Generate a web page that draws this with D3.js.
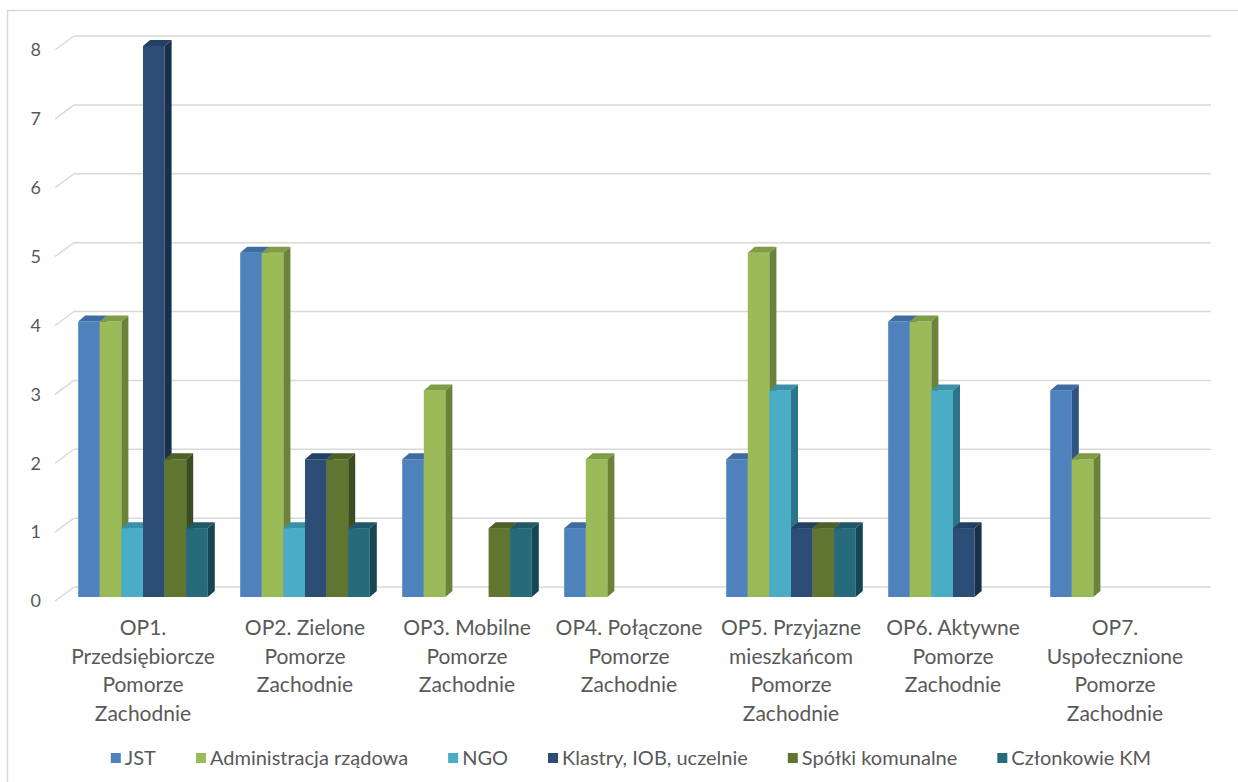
<!DOCTYPE html>
<html lang="pl">
<head>
    <meta charset="UTF-8">
    <title>Chart</title>
    <script src="https://d3js.org/d3.v7.min.js"></script>
    <style>
        body { margin: 0; background: #fff; }
        text { font-family: Lato, "Open Sans", sans-serif; fill: #595959; }
    </style>
</head>
<body>
    <div id="chart"></div>
    <script>
        // data
        const categories = ["OP1", "OP2", "OP3", "OP4", "OP5", "OP6", "OP7"];
        const categoryLines = [
            ["OP1.", "Przedsiębiorcze", "Pomorze", "Zachodnie"],
            ["OP2. Zielone", "Pomorze", "Zachodnie"],
            ["OP3. Mobilne", "Pomorze", "Zachodnie"],
            ["OP4. Połączone", "Pomorze", "Zachodnie"],
            ["OP5. Przyjazne", "mieszkańcom", "Pomorze", "Zachodnie"],
            ["OP6. Aktywne", "Pomorze", "Zachodnie"],
            ["OP7.", "Uspołecznione", "Pomorze", "Zachodnie"]
        ];
        const seriesNames = ["JST", "Administracja rządowa", "NGO", "Klastry, IOB, uczelnie", "Spółki komunalne", "Członkowie KM"];
        const jst        = [4, 5, 2, 1, 2, 4, 3];
        const admin      = [4, 5, 3, 2, 5, 4, 2];
        const ngo        = [1, 1, 0, 0, 3, 3, 0];
        const klastry    = [8, 2, 0, 0, 1, 1, 0];
        const spolki     = [2, 2, 1, 0, 1, 0, 0];
        const czlonkowie = [1, 1, 1, 0, 1, 0, 0];
        const seriesValues = [jst, admin, ngo, klastry, spolki, czlonkowie];
        const yTicks = [0, 1, 2, 3, 4, 5, 6, 7, 8];

        // colours: front, top, side
        const faceColors = [
            ["#4f81bd", "#3e6ba2", "#2f5482"],
            ["#9bbb59", "#7f9c46", "#6a8339"],
            ["#4bacc6", "#3a90a8", "#2d7488"],
            ["#2c4d75", "#233f61", "#1a2f49"],
            ["#5f7530", "#4d6026", "#3c4c1d"],
            ["#276a7c", "#1f5867", "#174552"]
        ];

        const width = 1238, height = 782;
        const depthX = 19, depthY = 14;    // floor depth
        const barDx = 7, barDy = 6;        // bar depth
        const frontShift = 10;             // bar front vs. back wall

        const svg = d3.select("#chart").append("svg")
            .attr("width", width)
            .attr("height", height);

        // chart border
        svg.append("rect")
            .attr("x", 7.5).attr("y", 10.5)
            .attr("width", 1240).attr("height", 790)
            .attr("fill", "none")
            .attr("stroke", "#d9d9d9")
            .attr("stroke-width", 1.5);

        const y = d3.scaleLinear().domain([0, 8]).range([587, 36]);
        const x0 = d3.scaleBand().domain(categories).range([62, 1196])
            .paddingInner(0.2).paddingOuter(0.1);
        const x1 = d3.scaleBand().domain(seriesNames).range([0, x0.bandwidth()]);

        // gridlines (back wall + side wall diagonal)
        const grid = svg.append("g");
        grid.selectAll(".gl").data(yTicks).join("line")
            .attr("x1", 55 + depthX).attr("x2", 1211)
            .attr("y1", d => y(d)).attr("y2", d => y(d))
            .attr("stroke", "#d9d9d9").attr("stroke-width", 1.5);
        grid.selectAll(".gd").data(yTicks).join("line")
            .attr("x1", 55).attr("x2", 55 + depthX)
            .attr("y1", d => y(d) + depthY).attr("y2", d => y(d))
            .attr("stroke", "#d9d9d9").attr("stroke-width", 1.5);

        // y tick labels
        svg.append("g").selectAll("text").data(yTicks).join("text")
            .attr("x", 41)
            .attr("y", d => y(d) + depthY)
            .attr("dy", "0.35em")
            .attr("text-anchor", "end")
            .style("font-size", "18px")
            .text(d => d);

        // bars
        const bars = [];
        categories.forEach((c, ci) => {
            seriesNames.forEach((s, si) => {
                const v = seriesValues[si][ci];
                if (v > 0) bars.push({ c, s, si, v });
            });
        });

        const barG = svg.append("g");
        bars.forEach(d => {
            const xl = x0(d.c) + x1(d.s);
            const xr = xl + x1.bandwidth();
            const yt = y(d.v) + frontShift;
            const yb = y(0) + frontShift;
            const g = barG.append("g");
            g.append("rect")
                .attr("x", xl).attr("y", yt)
                .attr("width", xr - xl).attr("height", yb - yt)
                .attr("fill", faceColors[d.si][0]);
            g.append("path")
                .attr("d", `M${xl},${yt}L${xl + barDx},${yt - barDy}L${xr + barDx},${yt - barDy}L${xr},${yt}Z`)
                .attr("fill", faceColors[d.si][1]);
            g.append("path")
                .attr("d", `M${xr},${yt}L${xr + barDx},${yt - barDy}L${xr + barDx},${yb - barDy}L${xr},${yb}Z`)
                .attr("fill", faceColors[d.si][2]);
        });

        // category labels
        const catG = svg.append("g");
        categories.forEach((c, ci) => {
            const t = catG.append("text")
                .attr("x", x0(c) + x0.bandwidth() / 2)
                .attr("y", 635)
                .attr("text-anchor", "middle")
                .style("font-size", "21px");
            categoryLines[ci].forEach((line, li) => {
                t.append("tspan")
                    .attr("x", x0(c) + x0.bandwidth() / 2)
                    .attr("dy", li === 0 ? 0 : 28.5)
                    .text(line);
            });
        });

        // legend
        const legend = svg.append("g");
        const items = legend.selectAll("g").data(seriesNames).join("g");
        items.append("rect")
            .attr("width", 10).attr("height", 10)
            .attr("y", -5)
            .attr("fill", (d, i) => faceColors[i][0]);
        items.append("text")
            .attr("x", 14)
            .attr("dy", "0.35em")
            .style("font-size", "20px")
            .text(d => d);
        let lx = 0;
        const gap = 40;
        items.each(function () {
            const w = 14 + d3.select(this).select("text").node().getComputedTextLength();
            d3.select(this).attr("data-x", lx);
            lx += w + gap;
        });
        const total = lx - gap;
        const startX = 631 - total / 2;
        items.attr("transform", function () {
            return `translate(${startX + (+d3.select(this).attr("data-x"))},758)`;
        });
    </script>
</body>
</html>
